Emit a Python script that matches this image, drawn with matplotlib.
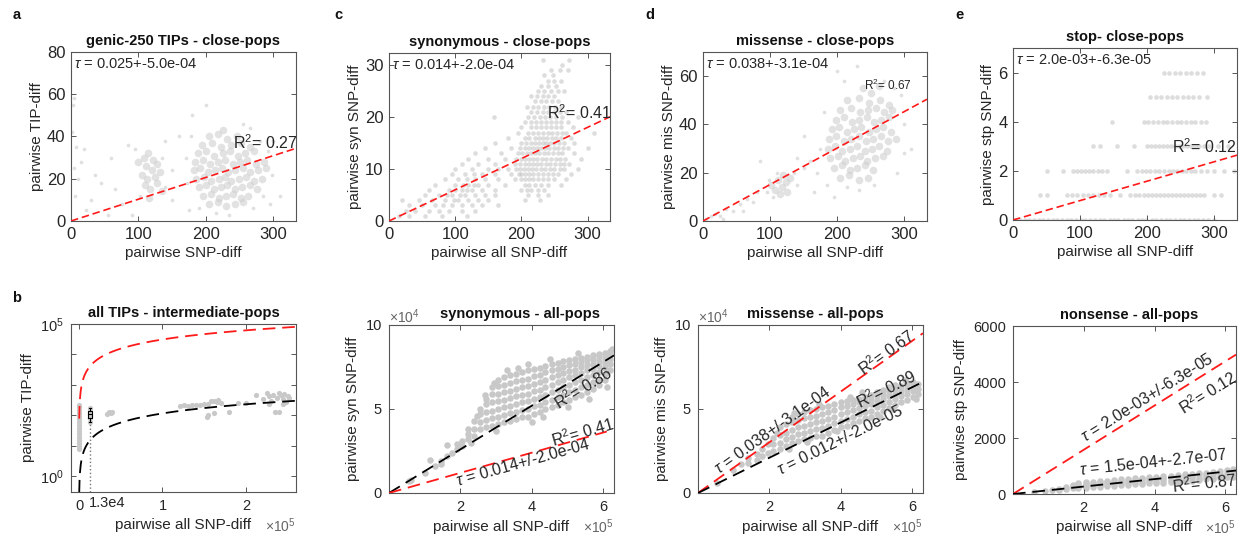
import numpy as np
import matplotlib
matplotlib.use('Agg')
import matplotlib.pyplot as plt
from matplotlib.ticker import NullLocator

plt.rcParams['font.family'] = ['Liberation Sans', 'DejaVu Sans']
plt.rcParams['mathtext.fontset'] = 'custom'
plt.rcParams['mathtext.rm'] = 'Liberation Sans'
plt.rcParams['mathtext.it'] = 'Liberation Sans:italic'

# ---------------- data ----------------
# a: genic-250 TIPs vs SNP diff (close pops) - dense core and sparse halo
genic_core_pts = [
    (205, 40), (218, 41), (232, 39), (247, 40), (226, 43),
    (195, 36), (210, 37), (222, 35), (238, 36), (252, 37), (266, 35),
    (188, 32), (200, 33), (213, 31), (225, 32), (236, 33), (248, 31), (259, 32), (272, 33),
    (184, 28), (196, 29), (207, 27), (218, 28), (229, 29), (240, 27), (251, 28), (262, 29), (275, 27), (286, 28),
    (182, 24), (192, 25), (203, 23), (214, 24), (224, 25), (233, 23), (244, 24), (255, 25), (266, 23), (278, 24), (290, 25),
    (186, 20), (197, 21), (208, 19), (219, 20), (228, 21), (238, 19), (249, 20), (260, 21), (271, 19), (283, 20),
    (190, 16), (201, 17), (212, 15), (222, 16), (232, 17), (243, 15), (254, 16), (265, 17), (276, 15),
    (196, 12), (208, 13), (219, 11), (230, 12), (241, 13), (252, 11), (263, 12),
    (205, 8), (218, 9), (230, 7), (244, 8), (256, 9),
    (100, 28), (108, 30), (115, 32), (122, 29), (112, 26), (120, 24), (128, 27), (105, 22), (113, 20),
    (124, 21), (132, 23), (110, 17), (118, 15), (127, 18), (135, 14), (116, 11),
]
genic_sparse_pts = [
    (3, 55), (5, 58), (2, 42), (8, 35), (4, 25), (10, 20), (6, 12), (15, 28), (22, 5), (30, 10),
    (45, 18), (60, 30), (75, 8), (85, 36), (150, 10), (160, 40), (170, 30), (175, 5), (300, 38),
    (310, 12), (295, 8), (180, 50), (200, 55), (265, 44), (90, 3), (140, 38), (55, 3), (215, 4),
    (235, 3), (102, 12), (140, 16), (292, 33), (298, 22), (285, 12), (178, 40), (172, 18), (255, 46),
    (280, 38), (190, 6), (270, 6), (95, 34), (135, 30), (150, 24), (20, 34), (35, 22), (65, 15),
]
genic_slope = 0.103

# c: synonymous vs all SNP diff (close pops), integer counts
syn_close_levels = [1, 2, 3, 4, 5, 6, 7, 8, 9, 10, 11, 12, 13, 14, 15, 16,
                    17, 18, 19, 20, 21, 22, 23, 24, 25, 26, 27, 28, 29, 30, 31]
syn_close_rows = [
    [15, 30, 55, 80, 118],
    [25, 40, 60, 75, 90, 110, 130],
    [30, 50, 70, 82, 95, 110, 125, 140, 165],
    [20, 45, 65, 85, 98, 105, 120, 135, 150, 205, 228],
    [55, 75, 88, 95, 108, 115, 130, 145, 160, 210, 225, 240],
    [60, 90, 100, 110, 118, 125, 140, 160, 200, 208, 215, 225, 235],
    [70, 100, 112, 120, 128, 135, 150, 175, 205, 212, 220, 230, 240, 260],
    [85, 105, 118, 130, 145, 165, 190, 200, 205, 212, 218, 225, 232, 240, 250, 268],
    [95, 115, 128, 140, 160, 185, 196, 200, 206, 212, 218, 225, 232, 240, 248, 255, 275],
    [100, 125, 150, 165, 180, 192, 198, 204, 210, 216, 222, 229, 236, 243, 250, 258, 265, 285],
    [110, 135, 160, 190, 198, 205, 211, 218, 224, 230, 237, 244, 251, 258, 265, 272],
    [120, 150, 175, 192, 200, 206, 212, 218, 224, 231, 238, 245, 252, 259, 266, 290],
    [130, 170, 195, 201, 208, 214, 220, 227, 234, 241, 248, 255, 262, 280],
    [145, 185, 198, 205, 211, 218, 224, 230, 236, 242, 249, 256, 263, 270, 300],
    [160, 200, 207, 214, 220, 226, 232, 238, 244, 250, 257, 264, 280],
    [180, 205, 212, 220, 226, 232, 239, 246, 253, 260, 275],
    [195, 210, 217, 225, 232, 240, 247, 254, 261, 268, 310],
    [200, 215, 222, 230, 238, 245, 252, 260, 278],
    [205, 214, 222, 230, 238, 245, 252, 260, 270],
    [158, 210, 219, 228, 236, 244, 253, 262, 285],
    [215, 224, 232, 241, 250, 259, 268],
    [208, 217, 225, 234, 242, 251, 260],
    [220, 229, 238, 246, 255],
    [215, 223, 232, 241, 250],
    [225, 235, 245, 255, 265],
    [230, 241, 252],
    [240, 250, 260],
    [235, 248],
    [245, 258, 270],
    [262],
    [232, 272],
]
syn_slope = 0.06

# d: missense vs all SNP diff (close pops)
mis_core_pts = [
    (238, 55), (262, 56), (250, 53),
    (215, 50), (232, 51), (248, 49), (264, 50), (277, 48),
    (205, 46), (220, 47), (234, 45), (246, 46), (258, 47), (270, 45), (282, 46),
    (198, 42), (210, 43), (222, 41), (233, 42), (244, 43), (255, 41), (266, 42), (278, 43),
    (192, 38), (203, 39), (214, 37), (225, 38), (236, 39), (247, 37), (258, 38), (269, 39), (281, 37),
    (188, 34), (199, 35), (210, 33), (221, 34), (232, 35), (243, 33), (254, 34), (265, 35), (276, 33), (288, 34),
    (186, 30), (197, 31), (208, 29), (219, 30), (230, 31), (241, 29), (252, 30), (263, 31), (274, 29),
    (190, 26), (201, 27), (212, 25), (223, 26), (234, 27), (245, 25), (256, 26), (268, 27),
    (196, 22), (208, 23), (219, 21), (230, 22), (242, 23), (254, 21),
    (205, 18), (218, 19), (232, 17), (246, 18),
    (102, 15), (108, 13), (112, 17), (118, 14), (124, 16), (130, 18), (115, 11), (125, 12), (120, 19),
]
mis_sparse_pts = [
    (95, 12), (136, 20), (105, 10), (98, 17), (140, 15), (110, 20), (215, 14), (232, 13),
    (5, 1), (12, 2), (18, 3), (25, 2), (35, 5), (45, 4), (55, 7), (65, 9), (75, 8), (80, 12),
    (150, 22), (160, 25), (170, 20), (175, 30), (165, 12), (195, 10), (300, 40), (310, 30),
    (295, 52), (200, 62), (150, 35), (230, 64), (85, 25), (290, 20), (300, 28), (180, 45),
    (185, 15), (270, 58), (285, 55), (210, 58), (255, 15), (140, 26), (60, 4), (30, 1),
]
mis_slope = 0.151

# e: stop vs all SNP diff (close pops), integer counts
stp_close_levels = [0, 1, 2, 3, 4, 5, 6]
stp_close_rows = [
    [3, 10, 18, 24, 31, 39, 45, 52, 60, 66, 73, 81, 87, 94, 102, 108, 115, 123, 129, 136, 144,
     150, 157, 165, 171, 178, 186, 192, 199, 207, 213, 220, 228, 234, 241, 249, 255, 262, 270,
     276, 283, 291, 300],
    [40, 50, 80, 88, 95, 105, 112, 120, 128, 135, 145, 160, 175, 182, 188, 195, 201, 207, 213,
     219, 225, 231, 237, 243, 249, 255, 261, 267, 273, 279, 285, 300, 310],
    [50, 75, 90, 96, 102, 108, 114, 120, 126, 132, 140, 170, 185, 192, 198, 205, 212, 218, 225,
     232, 238, 245, 252, 258, 265, 272, 280, 290, 300, 315, 330],
    [120, 130, 155, 180, 200, 206, 212, 218, 224, 230, 236, 242, 248, 254, 260, 266, 272, 278,
     285, 292, 305, 320],
    [148, 195, 202, 209, 216, 223, 230, 237, 244, 251, 258, 265, 272, 280, 288],
    [205, 213, 221, 229, 237, 245, 253, 261, 269, 278, 290],
    [225, 233, 241, 249, 258, 266, 275, 283],
]
stp_slope = 0.0079

# b: all TIPs vs all SNP diff (intermediate pops), log y
tip_all_pts = [
    (0, 8), (0, 10), (0, 12), (0, 15), (0, 19), (0, 24), (0, 30), (0, 38), (0, 48),
    (0, 60), (0, 75), (0, 95), (0, 120), (0, 150), (0, 185), (0, 220),
    (1.3e4, 62), (1.3e4, 80), (1.3e4, 100), (1.3e4, 130), (1.3e4, 160), (1.3e4, 175),
    (3.4e4, 110), (3.6e4, 125), (3.8e4, 118), (3.9e4, 130),
    (1.21e5, 205), (1.26e5, 215), (1.3e5, 200), (1.35e5, 220), (1.4e5, 210), (1.45e5, 225),
    (1.5e5, 240), (1.55e5, 230), (1.58e5, 290), (1.62e5, 300), (1.65e5, 280), (1.67e5, 320),
    (1.7e5, 250), (1.53e5, 90), (1.55e5, 105), (1.62e5, 120), (1.8e5, 128), (1.9e5, 250),
    (2.0e5, 260), (2.12e5, 470), (2.2e5, 330), (2.25e5, 520), (2.28e5, 420), (2.3e5, 300),
    (2.33e5, 480), (2.35e5, 128), (2.37e5, 380), (2.4e5, 540), (2.42e5, 450), (2.44e5, 350),
    (2.46e5, 500), (2.48e5, 280), (2.5e5, 420), (2.52e5, 360), (2.4e5, 128), (2.45e5, 230),
    (2.28e5, 240),
]
tip_box_vals = [60, 72, 88, 100, 112, 128, 150, 172]
tip_box_pos = 1.3e4
tip_red_slope = 0.31
tip_black_slope = 1.15e-3

# bottom c: synonymous all pops (x in 1e5, y in 1e4)
syn_all_cols_x = [0.55, 0.62, 1.0, 1.16, 1.3, 1.45, 1.62, 1.75, 1.9, 2.05, 2.2, 2.38, 2.55, 2.72,
                  2.88, 3.05, 3.22, 3.38, 3.55, 3.72, 3.88, 4.05, 4.22, 4.38, 4.55, 4.72, 4.88,
                  5.05, 5.22, 5.38, 5.55, 5.72, 5.88, 6.05, 6.2]
syn_all_cols_y = [
    [0.7], [0.8], [1.2], [1.95], [1.6], [1.9, 1.75], [2.85, 2.2], [2.4], [2.6, 2.9], [2.8, 3.1],
    [3.2, 3.5, 3.8], [3.4, 3.8, 4.3], [3.8, 4.2, 4.7, 5.0], [3.9, 4.35, 4.8, 5.3, 5.6],
    [4.0, 4.45, 4.9, 5.4, 5.9, 6.3], [4.1, 4.5, 5.0, 5.45, 5.9, 6.35, 6.7],
    [4.2, 4.65, 5.1, 5.55, 6.0, 6.45, 6.9], [4.3, 4.75, 5.2, 5.65, 6.1, 6.55, 7.0],
    [4.4, 4.85, 5.3, 5.75, 6.2, 6.65, 7.1], [4.5, 4.95, 5.4, 5.85, 6.3, 6.75, 7.2],
    [4.55, 5.0, 5.45, 5.9, 6.35, 6.8, 7.3], [4.7, 5.15, 5.6, 6.05, 6.5, 6.95, 7.4],
    [4.8, 5.25, 5.7, 6.15, 6.6, 7.05, 7.45], [5.0, 5.4, 5.85, 6.3, 6.75, 7.2, 7.55],
    [5.1, 5.55, 6.0, 6.45, 6.9, 7.3, 7.65], [5.25, 5.7, 6.15, 6.6, 7.0, 7.4, 7.75],
    [5.4, 5.85, 6.3, 6.75, 7.15, 7.5, 7.85], [5.55, 6.0, 6.45, 6.9, 7.25, 7.6, 7.9],
    [5.7, 6.15, 6.6, 7.0, 7.35, 7.7, 8.0], [5.85, 6.3, 6.75, 7.15, 7.5, 7.8, 8.05],
    [6.0, 6.45, 6.9, 7.3, 7.6, 7.9, 8.1], [6.2, 6.6, 7.0, 7.4, 7.7, 8.0, 8.2],
    [6.4, 6.8, 7.2, 7.55, 7.85, 8.15, 8.3], [6.7, 7.1, 7.45, 7.75, 8.05, 8.35],
    [7.3, 7.65, 7.95, 8.25, 8.45],
]
# extra scattered points around the synonymous cloud (x in 1e5, y in 1e4)
syn_all_extra = [(3.0, 3.7), (2.7, 5.85), (4.0, 4.25), (5.0, 5.1), (4.5, 8.0), (3.3, 7.35),
                 (2.45, 4.6), (3.9, 7.7), (5.6, 5.6), (6.1, 6.3), (2.3, 3.0), (2.95, 6.55),
                 (4.3, 4.5), (5.3, 8.35), (6.25, 8.6), (3.6, 7.45)]
syn_all_black_slope = 0.13

# bottom d: missense all pops (x in 1e5, y in 1e4)
mis_all_cols_x = [0.53, 0.99, 1.2, 1.4, 1.64, 1.8, 1.95, 2.1, 2.29, 2.45, 2.62, 2.8, 2.97, 3.14,
                  3.31, 3.48, 3.65, 3.82, 3.99, 4.16, 4.33, 4.5, 4.67, 4.84, 5.01, 5.18, 5.35,
                  5.52, 5.69, 5.86, 6.03, 6.15]
mis_all_cols_y = [
    [0.6], [1.39], [1.7], [1.8, 2.1], [1.98, 2.3], [2.2, 2.6], [2.4, 2.9], [2.5, 2.9, 3.3],
    [2.6, 3.0, 3.45, 3.9], [2.8, 3.2, 3.6, 4.1], [2.95, 3.35, 3.75, 4.2, 4.5],
    [3.1, 3.5, 3.9, 4.35, 4.7], [3.2, 3.6, 4.0, 4.45, 4.85], [3.3, 3.7, 4.1, 4.55, 4.95],
    [3.4, 3.8, 4.2, 4.6, 5.0], [3.4, 3.85, 4.3, 4.7, 5.1], [3.6, 4.0, 4.4, 4.8, 5.2],
    [3.75, 4.15, 4.55, 4.95, 5.3], [3.9, 4.3, 4.7, 5.1, 5.4], [4.0, 4.4, 4.8, 5.15, 5.45],
    [4.15, 4.55, 4.95, 5.3, 5.55], [4.3, 4.7, 5.05, 5.4, 5.6], [4.45, 4.85, 5.2, 5.5, 5.7],
    [4.5, 4.9, 5.3, 5.6, 5.85], [4.7, 5.1, 5.45, 5.75, 6.0], [4.9, 5.25, 5.6, 5.9, 6.15],
    [5.05, 5.4, 5.75, 6.05, 6.3], [5.25, 5.6, 5.9, 6.2, 6.45], [5.4, 5.75, 6.05, 6.35],
    [5.55, 5.9, 6.2, 6.5], [5.7, 6.05, 6.35, 6.6], [5.9, 6.2, 6.5],
]
mis_all_extra = [(2.2, 3.6), (2.7, 4.75), (3.4, 5.3), (3.9, 3.7), (4.6, 6.0), (5.1, 4.55),
                 (5.8, 6.7), (6.1, 5.6), (3.05, 3.05), (4.25, 5.7), (2.55, 2.6), (5.45, 5.0)]
mis_all_black_slope = 0.105

# bottom e: nonsense all pops (x in 1e5, y raw)
stp_all_cols_x = [0.6, 0.9, 1.1, 1.3, 1.5, 1.7, 1.85, 2.05, 2.25, 2.45, 2.65, 2.85, 3.05, 3.25,
                  3.45, 3.65, 3.85, 4.05, 4.25, 4.45, 4.65, 4.85, 5.05, 5.25, 5.45, 5.65,
                  5.85, 6.05, 6.22]
stp_all_cols_y = [
    [60], [100], [130], [150, 190], [180, 240], [200, 270, 330], [220, 290, 360, 400],
    [230, 300, 370, 420], [250, 320, 390, 440], [260, 335, 410, 460], [280, 350, 425, 480],
    [295, 370, 445, 500], [310, 385, 460, 520], [330, 405, 480, 540], [345, 420, 500, 560],
    [360, 440, 520, 580], [380, 455, 535, 600], [395, 475, 555, 620], [410, 490, 570, 640],
    [430, 510, 590, 660], [445, 525, 610, 680], [460, 545, 630, 700], [480, 560, 645, 720],
    [500, 580, 665, 740], [520, 600, 685, 760], [540, 620, 705, 790], [560, 640, 725, 810],
    [590, 665, 750, 840], [620, 700, 780, 880],
]
stp_all_black_slope = 0.00133

# ---------------- drawing ----------------
TXT = '#262626'
SPINE = '#555555'
RED = '#ff1a1a'
PT_TOP = '#cfcfcf'
PT_BOT = '#c8c8c8'

W, H = 1243, 542
fig = plt.figure(figsize=(W / 100, H / 100), dpi=100)


def px_axes(left, top, right, bottom):
    return fig.add_axes([left / W, 1 - bottom / H, (right - left) / W, (bottom - top) / H])


def style(ax, labelsize, pad=3):
    for sp in ax.spines.values():
        sp.set_color(SPINE)
        sp.set_linewidth(0.8)
    ax.tick_params(direction='in', top=True, right=True, length=3.5, width=0.7,
                   colors=SPINE, labelcolor=TXT, labelsize=labelsize, pad=pad)


def flatten_rows(levels, rows):
    xs, ys = [], []
    for lv, row in zip(levels, rows):
        xs += row
        ys += [lv] * len(row)
    return np.array(xs, float), np.array(ys, float)


def flatten_cols(cols_x, cols_y):
    xs, ys = [], []
    for cx, col in zip(cols_x, cols_y):
        xs += [cx] * len(col)
        ys += col
    return np.array(xs, float), np.array(ys, float)


def line_angle(ax, slope):
    p0 = ax.transData.transform((0.0, 0.0))
    p1 = ax.transData.transform((1.0, slope))
    return np.degrees(np.arctan2(p1[1] - p0[1], p1[0] - p0[0]))


def top_panel(ax, slope, ylim, yticks, ylabel, title, tau, r2, r2_xy, r2_size=11.5,
              xlabel='pairwise all SNP-diff'):
    xf = np.array([0.0, 334.0])
    ax.plot(xf, slope * xf, color=RED, lw=1.2, dashes=(4.5, 2.3), zorder=3)
    ax.set_xlim(0, 334)
    ax.set_ylim(*ylim)
    ax.set_xticks([0, 100, 200, 300])
    ax.set_yticks(yticks)
    style(ax, 12, pad=4)
    ax.set_xlabel(xlabel, fontsize=11, color=TXT, labelpad=3)
    ax.set_ylabel(ylabel, fontsize=11, color=TXT, labelpad=2)
    ax.set_title(title, fontsize=10.5, fontweight='bold', color='#111111', pad=5)
    ax.text(0.015, 0.93, r'$\tau$ = ' + tau, transform=ax.transAxes, fontsize=10.5,
            color=TXT, va='center', ha='left', zorder=4)
    ax.text(r2_xy[0], r2_xy[1], r'R$^2$= ' + r2, fontsize=r2_size, color=TXT,
            va='center', ha='left', zorder=4)


def cloud_top(ax, core, sparse):
    cx, cy = np.array(core, float).T
    sx, sy = np.array(sparse, float).T
    ax.scatter(cx, cy, s=30, color=PT_TOP, alpha=0.6, linewidths=0, zorder=1)
    ax.scatter(sx, sy, s=7, color='#e0e0e0', linewidths=0, zorder=1)


def bottom_panel(ax, x, y, ymax, yticks, yticklabels, ylabel, title, title_x):
    ax.scatter(x, y, s=22, color=PT_BOT, linewidths=0, zorder=1)
    ax.set_xlim(0, 6.3e5)
    ax.set_ylim(0, ymax)
    ax.set_xticks([2e5, 4e5, 6e5])
    ax.set_xticklabels(['2', '4', '6'])
    ax.set_yticks(yticks)
    ax.set_yticklabels(yticklabels)
    style(ax, 10.5, pad=5)
    ax.set_xlabel('pairwise all SNP-diff', fontsize=11, color=TXT, labelpad=4)
    ax.set_ylabel(ylabel, fontsize=11, color=TXT, labelpad=4)
    ax.set_title(title, fontsize=10.5, fontweight='bold', color='#111111', pad=5, x=title_x)
    ax.text(1.0, -0.2, r'$\times10^5$', transform=ax.transAxes, fontsize=10,
            color='#666666', ha='right', va='center')


def fit_line(ax, slope, color, x_end=6.3e5):
    xf = np.array([0.0, x_end])
    ax.plot(xf, slope * xf, color=color, lw=1.3, dashes=(7, 3.8), zorder=3)


def slanted(ax, x, y, text, slope):
    ax.text(x, y, text, rotation=line_angle(ax, slope), rotation_mode='anchor',
            ha='center', va='center', fontsize=11.5, color=TXT, zorder=4)


# ---- a
ax = px_axes(71, 52, 296, 221)
cloud_top(ax, genic_core_pts, genic_sparse_pts)
top_panel(ax, genic_slope, (0, 80), [0, 20, 40, 60, 80], 'pairwise TIP-diff',
          'genic-250 TIPs - close-pops', '0.025+-5.0e-04', '0.27', (240, 37),
          xlabel='pairwise SNP-diff')

# ---- c
ax = px_axes(389, 53, 610, 221)
sx, sy = flatten_rows(syn_close_levels, syn_close_rows)
ax.scatter(sx, sy, s=11, color='#bdbdbd', alpha=0.5, linewidths=0, zorder=1)
top_panel(ax, syn_slope, (0, 32.3), [0, 10, 20, 30], 'pairwise syn SNP-diff',
          'synonymous - close-pops', '0.014+-2.0e-04', '0.41', (239, 20.8))

# ---- d
ax = px_axes(703, 52, 927, 221)
cloud_top(ax, mis_core_pts, mis_sparse_pts)
top_panel(ax, mis_slope, (0, 70), [0, 20, 40, 60], 'pairwise mis SNP-diff',
          'missense - close-pops', '0.038+-3.1e-04', '0.67', (240, 56), r2_size=8.5)

# ---- e
ax = px_axes(1013, 48, 1237, 220)
ex, ey = flatten_rows(stp_close_levels, stp_close_rows)
ax.scatter(ex, ey, s=11, color='#bdbdbd', alpha=0.5, linewidths=0, zorder=1)
top_panel(ax, stp_slope, (0, 7.0), [0, 2, 4, 6], 'pairwise stp SNP-diff',
          'stop- close-pops', '2.0e-03+-6.3e-05', '0.12', (237, 2.97))

# ---- b
ax = px_axes(71, 324, 296, 492)
bx, by = np.array(tip_all_pts, float).T
ax.scatter(bx, by, s=14, color=PT_BOT, linewidths=0, zorder=2)
ax.set_yscale('log')
ax.set_xlim(-0.96e4, 2.6e5)
ax.set_ylim(0.3, 1e5)
xf = np.linspace(250, 2.6e5, 600)
ax.plot(xf, tip_red_slope * xf, color=RED, lw=1.3, dashes=(7, 3.8), zorder=3)
ax.plot(xf, tip_black_slope * xf, color='k', lw=1.3, dashes=(7, 3.8), zorder=3)
ax.boxplot([tip_box_vals], positions=[tip_box_pos], widths=4500, manage_ticks=False,
           showfliers=False, boxprops=dict(color='k', lw=0.8),
           whiskerprops=dict(color='k', lw=0.8), capprops=dict(color='k', lw=0.8),
           medianprops=dict(color='k', lw=0.8), zorder=4)
ax.vlines(tip_box_pos, 0.3, min(tip_box_vals), colors='#777777', linestyles=':', lw=1.0)
ax.set_xticks([0, 1e5, 2e5])
ax.set_xticklabels(['0', '1', '2'])
ax.set_yticks([1, 10, 100, 1e3, 1e4, 1e5])
ax.set_yticklabels([r'$10^0$', '', '', '', '', r'$10^5$'])
ax.yaxis.set_minor_locator(NullLocator())
style(ax, 10.5, pad=5)
ax.annotate('1.3e4', xy=(tip_box_pos, 0), xycoords=('data', 'axes fraction'),
            xytext=(-1, -3), textcoords='offset points', ha='left', va='top',
            fontsize=10.5, color=TXT)
ax.set_xlabel('pairwise all SNP-diff', fontsize=11, color=TXT, labelpad=4)
ax.set_ylabel('pairwise TIP-diff', fontsize=11, color=TXT, labelpad=4)
ax.set_title('all TIPs - intermediate-pops', fontsize=10.5, fontweight='bold',
             color='#111111', pad=5)
ax.text(1.0, -0.2, r'$\times10^5$', transform=ax.transAxes, fontsize=10,
        color='#666666', ha='right', va='center')

# ---- bottom c
ax = px_axes(389, 325, 614, 493)
cx, cy = flatten_cols(syn_all_cols_x, syn_all_cols_y)
ex_x, ex_y = np.array(syn_all_extra).T
cx = np.concatenate([cx, ex_x])
cy = np.concatenate([cy, ex_y])
bottom_panel(ax, cx * 1e5, cy * 1e4, 1e5, [0, 5e4, 1e5], ['0', '5', '10'],
             'pairwise syn SNP-diff', 'synonymous - all-pops', 0.58)
fit_line(ax, syn_all_black_slope, 'k')
fit_line(ax, syn_slope, RED, 6.1e5)
ax.text(0.0, 1.05, r'$\times10^4$', transform=ax.transAxes, fontsize=10,
        color='#666666', ha='left', va='center')
slanted(ax, 5.43e5, 6.25e4, r'R$^2$= 0.86', syn_all_black_slope)
slanted(ax, 5.43e5, 3.6e4, r'R$^2$= 0.41', syn_slope)
slanted(ax, 3.75e5, 1.8e4, r'$\tau$ = 0.014+/-2.0e-04', syn_slope)

# ---- bottom d
ax = px_axes(698, 325, 923, 493)
dx, dy = flatten_cols(mis_all_cols_x, mis_all_cols_y)
ex_x, ex_y = np.array(mis_all_extra).T
dx = np.concatenate([dx, ex_x])
dy = np.concatenate([dy, ex_y])
bottom_panel(ax, dx * 1e5, dy * 1e4, 1e5, [0, 5e4, 1e5], ['0', '5', '10'],
             'pairwise mis SNP-diff', 'missense - all-pops', 0.52)
fit_line(ax, mis_slope, RED)
fit_line(ax, mis_all_black_slope, 'k')
ax.text(0.0, 1.05, r'$\times10^4$', transform=ax.transAxes, fontsize=10,
        color='#666666', ha='left', va='center')
slanted(ax, 5.28e5, 8.35e4, r'R$^2$= 0.67', mis_slope)
slanted(ax, 2.1e5, 3.75e4, r'$\tau$ = 0.038+/-3.1e-04', mis_slope)
slanted(ax, 5.28e5, 6.15e4, r'R$^2$= 0.89', mis_all_black_slope)
slanted(ax, 3.97e5, 3.15e4, r'$\tau$ = 0.012+/-2.0e-05', mis_all_black_slope)

# ---- bottom e
ax = px_axes(1013, 326, 1236, 494)
nx, ny = flatten_cols(stp_all_cols_x, stp_all_cols_y)
bottom_panel(ax, nx * 1e5, ny, 6000, [0, 2000, 4000, 6000], ['0', '2000', '4000', '6000'],
             'pairwise stp SNP-diff', 'nonsense - all-pops', 0.52)
fit_line(ax, stp_slope, RED)
fit_line(ax, stp_all_black_slope, 'k')
slanted(ax, 3.8e5, 3430, r'$\tau$ = 2.0e-03+/-6.3e-05', stp_slope)
slanted(ax, 5.52e5, 3600, r'R$^2$= 0.12', stp_slope)
slanted(ax, 3.97e5, 1140, r'$\tau$ = 1.5e-04+-2.7e-07', stp_all_black_slope)
slanted(ax, 5.4e5, 390, r'R$^2$= 0.87', stp_all_black_slope)

# panel letters
for letter, (lx, ly) in zip('abcde', [(17, 15), (17, 298), (338, 15), (650, 15), (960, 15)]):
    fig.text(lx / W, 1 - ly / H, letter, fontsize=10.5, fontweight='bold',
             color='#111111', ha='center', va='center')

fig.savefig('out.png', dpi=100)
